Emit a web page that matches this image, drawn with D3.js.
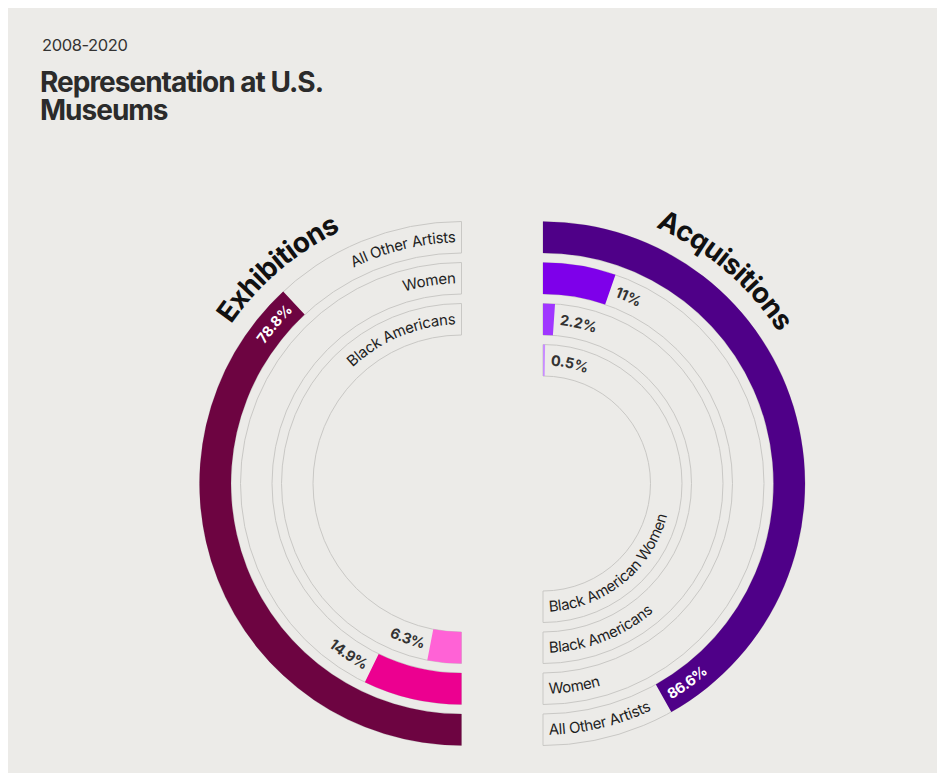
<!DOCTYPE html>
<html>
<head>
<meta charset="utf-8">
<title>Representation at U.S. Museums</title>
<script src="https://cdnjs.cloudflare.com/ajax/libs/d3/7.8.5/d3.min.js"></script>
<style>
  body { margin: 0; background: #fff; }
  svg text { font-family: Inter, "Noto Sans", sans-serif; }
</style>
</head>
<body>
<svg></svg>
<script>
// data
var exhibitionGroups = ["All Other Artists", "Women", "Black Americans"];
var exhibitionValues = [78.8, 14.9, 6.3];
var acquisitionGroups = ["All Other Artists", "Women", "Black Americans", "Black American Women"];
var acquisitionValues = [86.6, 11, 2.2, 0.5];

var exhibitionColors = ["#6d0441", "#ec0090", "#ff62d6"];
var acquisitionColors = ["#4f0088", "#7e00ea", "#a036ff", "#c88cff"];

var w = 941, h = 773;
var svg = d3.select("svg").attr("width", w).attr("height", h);
var defs = svg.append("defs");

svg.append("rect")
  .attr("x", 8).attr("y", 8)
  .attr("width", 929).attr("height", 770)
  .attr("fill", "#ecebe8");

svg.append("text").attr("x", 42).attr("y", 51)
  .attr("font-size", 16.5).attr("fill", "#333").attr("letter-spacing", -0.4)
  .text("2008-2020");

// two-line title in one text element
var title = svg.append("text")
  .attr("font-size", 28).attr("font-weight", 700).attr("fill", "#2b2b2b").attr("letter-spacing", -1);
title.append("tspan").attr("x", 40).attr("y", 92).text("Representation at U.S.");
title.append("tspan").attr("x", 40).attr("y", 120).text("Museums");

var cy = 483.5;
var ringWidth = 31.5;
var gap = 6;
// 100% takes a little less than a half turn
var angle = d3.scaleLinear().domain([0, 100]).range([0, Math.PI * 174 / 180]);
// outer radius of each ring, by index
var ringR = d3.scaleLinear().domain([0, 1]).range([262, 221]);

var uid = 0;
// arc for a text path, angles d3-style (0 = top, clockwise)
function arcLine(cx, r, a0, a1) {
  var p = d3.path();
  p.arc(cx, cy, r, a0 - Math.PI / 2, a1 - Math.PI / 2, a1 < a0);
  var id = "tp" + (uid++);
  defs.append("path").attr("id", id).attr("d", p.toString());
  return id;
}

function pathText(id, str, anchor, opts) {
  var t = svg.append("text")
    .attr("font-size", opts.size)
    .attr("font-weight", opts.weight || 400)
    .attr("fill", opts.fill)
    .attr("letter-spacing", opts.spacing || 0);
  t.append("textPath")
    .attr("href", "#" + id)
    .attr("startOffset", anchor == "end" ? "100%" : anchor == "middle" ? "50%" : "0%")
    .attr("text-anchor", anchor)
    .text(str);
}

function drawSide(cx, start, groups, values, colors, side, title, titleAngle) {
  var g = svg.append("g").attr("transform", "translate(" + cx + "," + cy + ")");

  groups.forEach(function(name, i) {
    var r1 = ringR(i), r0 = r1 - ringWidth, mid = (r0 + r1) / 2;
    var v = values[i];
    var end = start + angle(v);

    g.append("path")
      .attr("d", d3.arc()({innerRadius: r0, outerRadius: r1, startAngle: start, endAngle: start + Math.PI}))
      .attr("fill", "none")
      .attr("stroke", "#c9c8c5")
      .attr("stroke-width", 1);

    g.append("path")
      .attr("d", d3.arc()({innerRadius: r0, outerRadius: r1, startAngle: start, endAngle: end}))
      .attr("fill", colors[i]);

    var labelOpts = {size: 15, fill: "#1e1e1e", spacing: -0.3};
    var valOut = {size: 14.5, weight: 700, fill: "#333", spacing: -0.3};
    var valIn = {size: 14.5, weight: 700, fill: "#fff", spacing: -0.3};
    var txt = v + "%";

    if (side == "left") {
      // group name at the top end of the track
      pathText(arcLine(cx, mid - 5, start + 0.3, start + Math.PI - gap / mid), name, "end", labelOpts);
      if (v >= 50) {
        pathText(arcLine(cx, mid - 5, start, end - gap / mid), txt, "end", valIn);
      } else {
        pathText(arcLine(cx, mid + 5, start + Math.PI, end + gap / mid), txt, "end", valOut);
      }
    } else {
      // group name at the bottom end of the track
      pathText(arcLine(cx, mid + 5, start + Math.PI - gap / mid, start + 0.2), name, "start", labelOpts);
      if (v >= 50) {
        pathText(arcLine(cx, mid + 5, end - gap / mid, start), txt, "start", valIn);
      } else {
        pathText(arcLine(cx, mid - 5, end + gap / mid, start + Math.PI), txt, "start", valOut);
      }
    }
  });

  pathText(arcLine(cx, 280, titleAngle - 0.6, titleAngle + 0.6), title, "middle",
    {size: 28, weight: 700, fill: "#111", spacing: -0.6});
}

drawSide(461.5, Math.PI, exhibitionGroups, exhibitionValues, exhibitionColors, "left",
  "Exhibitions", 319.5 * Math.PI / 180);
drawSide(543, 0, acquisitionGroups, acquisitionValues, acquisitionColors, "right",
  "Acquisitions", 40.5 * Math.PI / 180);
</script>
</body>
</html>
